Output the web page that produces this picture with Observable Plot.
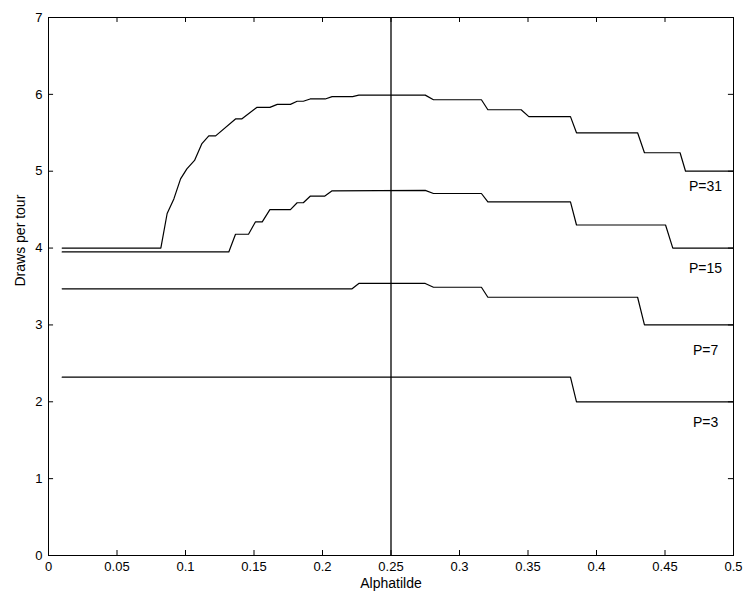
<!DOCTYPE html>
<html><head>
<script src="https://cdn.jsdelivr.net/npm/d3@7"></script>
<script src="https://cdn.jsdelivr.net/npm/@observablehq/plot@0.6"></script>
<style>body{margin:0;background:#fff}</style>
</head><body><div id="chart"></div>
<script>
const p31 = [[0.01,4.0],[0.082,4.0],[0.0866,4.45],[0.0915,4.64],[0.0964,4.9],[0.101,5.03],[0.1066,5.14],[0.112,5.36],[0.117,5.46],[0.122,5.46],[0.1365,5.68],[0.141,5.68],[0.152,5.83],[0.1616,5.83],[0.167,5.87],[0.1766,5.87],[0.1815,5.91],[0.186,5.91],[0.191,5.94],[0.202,5.94],[0.207,5.97],[0.222,5.97],[0.2265,5.99],[0.275,5.99],[0.281,5.93],[0.316,5.93],[0.3207,5.8],[0.345,5.8],[0.3506,5.71],[0.381,5.71],[0.3854,5.5],[0.43,5.5],[0.435,5.24],[0.461,5.24],[0.465,5.0],[0.5,5.0]]
const p15 = [[0.01,3.95],[0.1316,3.95],[0.1365,4.18],[0.146,4.18],[0.151,4.34],[0.156,4.34],[0.1616,4.5],[0.1766,4.5],[0.1815,4.59],[0.186,4.59],[0.191,4.675],[0.2015,4.675],[0.207,4.745],[0.275,4.75],[0.281,4.71],[0.316,4.71],[0.3207,4.6],[0.381,4.6],[0.3854,4.3],[0.4504,4.3],[0.4557,4.0],[0.5,4.0]]
const p7 = [[0.01,3.47],[0.2216,3.47],[0.2265,3.54],[0.275,3.54],[0.281,3.49],[0.316,3.49],[0.3207,3.36],[0.43,3.36],[0.435,3.0],[0.5,3.0]]
const p3 = [[0.01,2.32],[0.381,2.32],[0.3854,2.0],[0.5,2.0]]
const series = [p31, p15, p7, p3]
const labels = [{t: 'P=31', x: 0.4796, y: 4.8}, {t: 'P=15', x: 0.4796, y: 3.73}, {t: 'P=7', x: 0.4796, y: 2.67}, {t: 'P=3', x: 0.4796, y: 1.73}]
const xTicks = d3.range(0, 0.5001, 0.05)
const yTicks = d3.range(0, 8)
const xtl = 0.065, ytl = 0.0037

const chart = Plot.plot({
  width: 744, height: 600,
  marginLeft: 48, marginRight: 11, marginTop: 17, marginBottom: 45,
  style: {fontFamily: 'Liberation Sans, Arial, sans-serif', fontSize: '13px', color: '#000'},
  x: {domain: [0, 0.5]},
  y: {domain: [0, 7]},
  marks: [
    Plot.frame({stroke: '#000'}),
    Plot.axisX(xTicks, {tickSize: 0, tickPadding: 6, label: null, tickFormat: d => String(+d.toFixed(2)), fontSize: 13}),
    Plot.axisY(yTicks, {tickSize: 0, tickPadding: 6, label: null, tickFormat: d => String(d), fontSize: 13}),
    Plot.text(['Alphatilde'], {frameAnchor: 'bottom', dy: 32, fontSize: 14, fill: '#000'}),
    Plot.text(['Draws per tour'], {frameAnchor: 'left', dx: -28, rotate: -90, fontSize: 14, fill: '#000'}),
    Plot.ruleX(xTicks, {y1: 0, y2: xtl, stroke: '#000'}),
    Plot.ruleX(xTicks, {y1: 7 - xtl, y2: 7, stroke: '#000'}),
    Plot.ruleY(yTicks, {x1: 0, x2: ytl, stroke: '#000'}),
    Plot.ruleY(yTicks, {x1: 0.5 - ytl, x2: 0.5, stroke: '#000'}),
    Plot.ruleX([0.25], {y1: 0, y2: 7, stroke: '#000', strokeWidth: 1.3}),
    ...series.map(s => Plot.line(s, {x: d => d[0], y: d => d[1], stroke: '#000', strokeWidth: 1.2})),
    Plot.text(labels, {x: 'x', y: 'y', text: 't', fontSize: 14, fill: '#000'})
  ]
})
document.getElementById('chart').append(chart)
</script></body></html>
